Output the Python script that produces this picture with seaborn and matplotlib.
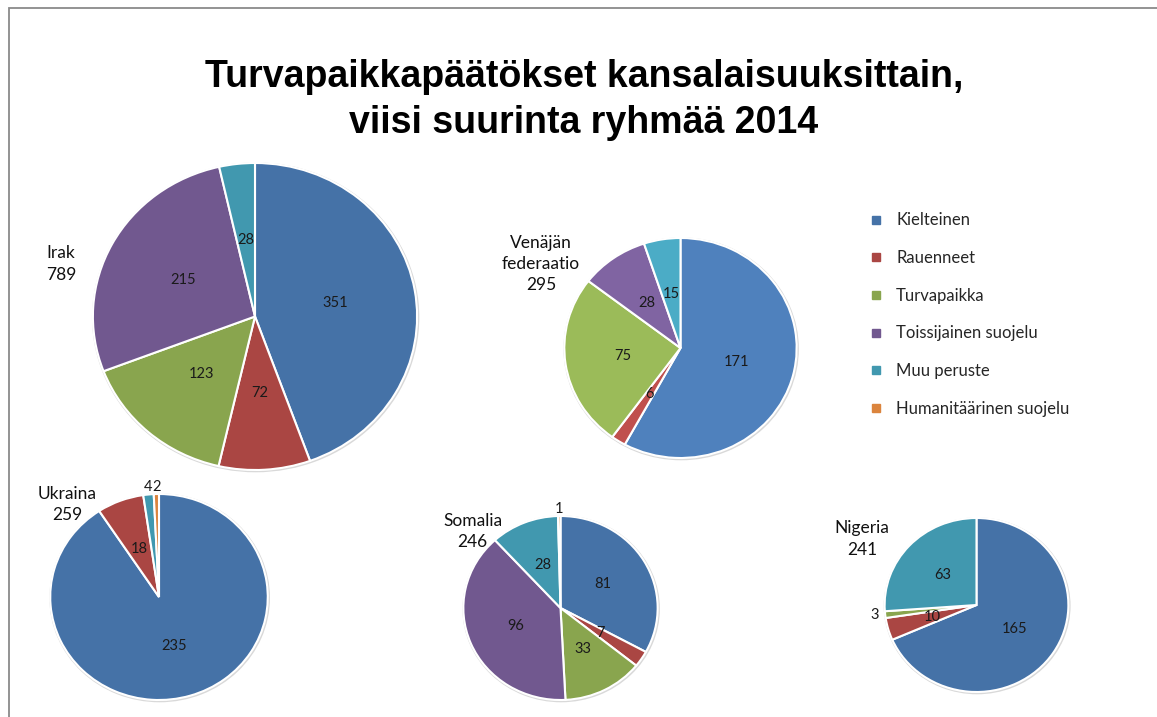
import matplotlib
matplotlib.use("Agg")
import matplotlib.pyplot as plt
from matplotlib.lines import Line2D
from matplotlib.patches import Rectangle
import numpy as np
import seaborn as sns

# ---------------- data ----------------
categories = ["Kielteinen", "Rauenneet", "Turvapaikka",
              "Toissijainen suojelu", "Muu peruste", "Humanitäärinen suojelu"]
countries = ["Irak", "Venäjän\nfederaatio", "Ukraina", "Somalia", "Nigeria"]
totals = [789, 295, 259, 246, 241]
irak = [351, 72, 123, 215, 28, 0]
venaja = [171, 6, 75, 28, 15, 0]
ukraina = [235, 18, 0, 0, 4, 2]
somalia = [81, 7, 33, 96, 28, 1]
nigeria = [165, 10, 3, 0, 63, 0]
series = [irak, venaja, ukraina, somalia, nigeria]
title = "Turvapaikkapäätökset kansalaisuuksittain,\nviisi suurinta ryhmää 2014"

# ---------------- style ----------------
sns.set_theme(style="white")
plt.rcParams["font.family"] = ["Lato", "DejaVu Sans"]

dark = ["#4572A7", "#AA4643", "#89A54E", "#71588F", "#4198AF", "#DB843D"]
light = ["#4F81BD", "#C0504D", "#9BBB59", "#8064A2", "#4BACC6", "#F79646"]
pie_colors = [dark, light, dark, dark, dark]

W, H = 1157, 717
S = 1.056  # horizontal stretch of the pies
# pie layout in pixels: centre x, centre y (from top), vertical radius
layout = [(255, 316.5, 153.5), (680.5, 348, 110), (159, 597, 103),
          (560.5, 608, 92), (976.5, 605, 87)]
name_pos = [(61, 264), (541, 264), (67.5, 504.5), (472.5, 531.5), (862, 539)]

fig = plt.figure(figsize=(W / 100, H / 100), dpi=100)
fig.patch.set_facecolor("white")
ax = fig.add_axes([0, 0, 1, 1])

for vals, cols, (cx, cy, r) in zip(series, pie_colors, layout):
    nz = [(v, c) for v, c in zip(vals, cols) if v > 0]
    v_nz = [v for v, _ in nz]
    c_nz = [c for _, c in nz]
    center = (cx / S, H - cy)
    # faint outer shadow ring
    ax.pie([1], colors=["#d9d9d9"], center=(center[0] + 0.6, center[1] - 0.8),
           radius=r + 1.5, wedgeprops=dict(linewidth=0))
    wedges, _ = ax.pie(v_nz, colors=c_nz, center=center, radius=r,
                       startangle=90, counterclock=False,
                       wedgeprops=dict(edgecolor="white", linewidth=1.5))
    for w, v in zip(wedges, v_nz):
        t1, t2 = w.theta1, w.theta2
        span = abs(t2 - t1)
        mid = np.deg2rad((t1 + t2) / 2)
        cs, sn = np.cos(mid), np.sin(mid)
        if span < 6:
            d = 1.0 if abs(sn) > 0.5 else 1.07
            ha = "center" if abs(cs) < 0.5 else ("left" if cs > 0 else "right")
            va = "center" if abs(sn) < 0.5 else ("bottom" if sn > 0 else "top")
        else:
            d = 0.5
            ha, va = "center", "center"
        ax.text(center[0] + d * r * cs, center[1] + d * r * sn, str(v),
                ha=ha, va=va, fontsize=10.5, color="#1a1a1a")

ax.set_aspect("auto")
ax.set_xlim(0, W / S)
ax.set_ylim(0, H)
ax.axis("off")

for name, tot, (x, y) in zip(countries, totals, name_pos):
    fig.text(x / W, 1 - y / H, f"{name}\n{tot}", ha="center", va="center",
             multialignment="center", fontsize=12.5, linespacing=1.4,
             color="#111111")

fig.text(584 / W, 1 - 100 / H, title, ha="center", va="center",
         fontsize=27, fontweight="bold", linespacing=1.33,
         family=["Liberation Sans", "DejaVu Sans"],
         color="black")

handles = [Line2D([], [], marker="s", linestyle="none", markersize=5.5,
                  markerfacecolor=c, markeredgecolor=c) for c in dark]
leg = fig.legend(handles, categories, loc="upper left",
                 bbox_to_anchor=(862 / W, 1 - 204 / H),
                 frameon=False, fontsize=12, labelspacing=1.30,
                 handlelength=0.7, handletextpad=0.85, borderpad=0)

fig.patches.append(Rectangle((9 / W, -0.2), 1.2, 1.2 - 8 / H,
                             transform=fig.transFigure, fill=False,
                             edgecolor="#8a8a8a", linewidth=1.3))

fig.savefig("out.png", dpi=100, facecolor="white")
